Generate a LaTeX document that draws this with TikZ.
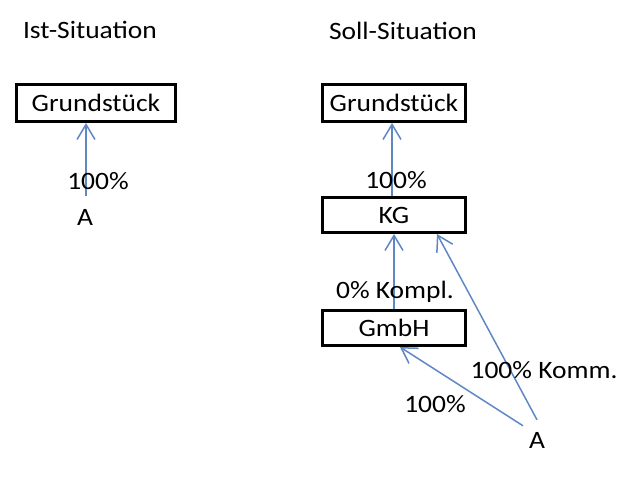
\documentclass[tikz,border=0pt]{standalone}
\usepackage{fontspec}
\setmainfont{Carlito}[FakeStretch=1.1]
\usetikzlibrary{arrows.meta}

\begin{document}
\begin{tikzpicture}[x=1pt, y=1pt,
    every node/.style={font=\fontsize{25}{28}\selectfont},
    box/.style={draw, line width=3pt, minimum width=143pt, minimum height=35pt, inner sep=0pt},
    pfeil/.style={draw={rgb,255:red,95;green,135;blue,195}, line width=1.5pt, -{Straight Barb[length=15pt,width=18pt]}}]
      \useasboundingbox (0, 0) rectangle (640, -485);
      \node (ist) at (90, -30) {Ist-Situation};
      \node (soll) at (403, -31) {Soll-Situation};
      \node[box, minimum width=159pt, minimum height=37pt] (g1) at (96, -103) {Grundstück};
      \node[inner sep=0pt] (a1) at (85, -217) {A};
      \draw[pfeil] ([xshift=1pt, yshift=13pt]a1.north) -- ([xshift=-10pt]g1.south);
      \node at (98, -181) {100\%};
      \node[box, minimum height=37pt] (g2) at (394, -103) {Grundstück};
      \node[box] (kg) at (394, -215) {KG};
      \draw[pfeil] ([xshift=-2pt]kg.north) -- ([xshift=-2pt]g2.south);
      \node at (396, -180) {100\%};
      \node[box] (gmbh) at (394, -328) {GmbH};
      \draw[pfeil] (gmbh.north) -- (kg.south);
      \node at (395, -292) {0\% Kompl.};
      \node[inner sep=0pt] (a2) at (537, -440) {A};
      \draw[pfeil] ([yshift=12pt]a2.north) -- ([xshift=43pt]kg.south);
      \draw[pfeil] ([xshift=-14pt, yshift=6pt]a2.north) -- ([xshift=6pt]gmbh.south);
      \node at (544, -370) {100\% Komm.};
      \node at (435, -404) {100\%};
    \end{tikzpicture}
\end{document}
